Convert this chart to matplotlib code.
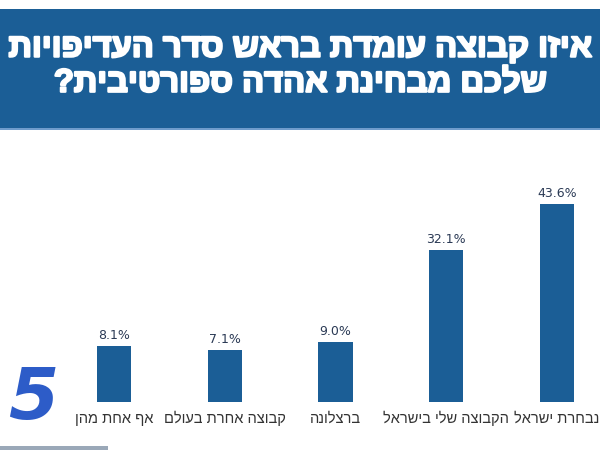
import matplotlib.pyplot as plt
import matplotlib.patches as mpatches
import matplotlib.patheffects as pe
import numpy as np

# ── data (reading order, right to left) ──
categories = ['נבחרת ישראל', 'הקבוצה שלי בישראל', 'ברצלונה', 'קבוצה אחרת בעולם', 'אף אחת מהן']
values = [43.6, 32.1, 9.0, 7.1, 8.1]
title_lines = ['איזו קבוצה עומדת בראש סדר העדיפויות', 'שלכם מבחינת אהדה ספורטיבית?']

bar_color = '#1b5e96'
heb = ['Liberation Sans', 'DejaVu Sans']


def rtl(s):
    # matplotlib has no bidi support, so flip the Hebrew by hand
    return s[::-1]


fig = plt.figure(figsize=(6, 4.5), dpi=100)
fig.patch.set_facecolor('#FFFFFF')

# ── title banner ──
fig.patches.append(mpatches.Rectangle((0, 0.716), 1, 0.264, transform=fig.transFigure,
                                      facecolor='#1b5e96', edgecolor='none', zorder=1))
fig.patches.append(mpatches.Rectangle((0, 0.711), 1, 0.005, transform=fig.transFigure,
                                      facecolor='#6f9ccc', edgecolor='none', zorder=1))
thick = [pe.Stroke(linewidth=1.6, foreground='#FFFFFF'), pe.Normal()]
for y, line in zip([0.893, 0.815], title_lines):
    fig.text(0.5, y, rtl(line), ha='center', va='center', fontsize=23.5, fontweight='bold',
             color='#FFFFFF', family=heb, zorder=2, path_effects=thick)

# ── bars ── (value axis starts a little below zero, as in the original graphic)
y0 = -5.9
ax = fig.add_axes([0, 0.1067, 1, 0.5822])
pos = np.arange(len(categories))
vals = np.array(values)
ax.bar(pos, vals - y0, bottom=y0, width=0.31, color=bar_color, zorder=3)
for x, v in zip(pos, values):
    ax.text(x, v + 1.0, f'{v:.1f}%', ha='center', va='bottom', fontsize=9,
            color='#2b3a55', zorder=4)
    ax.text(x, -10.1, rtl(categories[x]), ha='center', va='center', fontsize=10.5,
            color='#333333', family=heb, zorder=4, clip_on=False)

ax.set_xlim(5.029, -0.388)
ax.set_ylim(y0, 59.6)
ax.axis('off')

# ── channel logo (bottom left) ──
fig.text(0.055, 0.068, '5', ha='center', va='baseline', fontsize=52, fontweight='bold',
         fontstyle='italic', color='#2d5cc8', zorder=5)
fig.patches.append(mpatches.Rectangle((0, 0), 0.18, 0.008, transform=fig.transFigure,
                                      facecolor='#9aa8b8', edgecolor='none', zorder=1))

plt.savefig('out.png', dpi=100, facecolor='#FFFFFF')
